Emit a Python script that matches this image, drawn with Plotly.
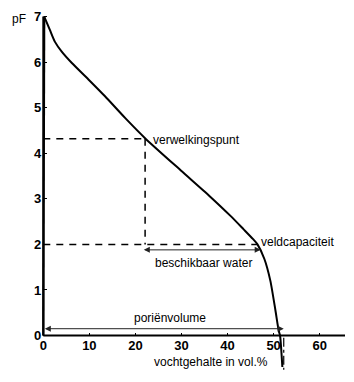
import plotly.graph_objects as go

# data
curve_vol = [0.2, 1.45, 2.5, 4.0, 6.2, 9.8, 13.4, 17.8, 22.2, 30.0, 36.0, 40.7, 43.5, 45.5, 46.5, 48.0, 49.3, 50.4, 51.1, 51.4, 51.9]
curve_pf = [7.0, 6.70, 6.45, 6.23, 5.98, 5.62, 5.25, 4.77, 4.32, 3.61, 3.07, 2.62, 2.33, 2.12, 2.0, 1.68, 1.2, 0.55, 0.11, 0.0, -0.69]
wilting_vol, wilting_pf = 22.1, 4.32
field_vol, field_pf = 46.5, 2.0
pore_vol = 52.2
x_ticks = [0, 10, 20, 30, 40, 50, 60]
y_ticks = [0, 1, 2, 3, 4, 5, 6, 7]

font = "Arial, Liberation Sans, sans-serif"
xr = [-0.5, 65.5]
yr = [-0.8, 7.1]

fig = go.Figure()
# vertical start of curve
fig.add_trace(go.Scatter(x=[0, curve_vol[0]], y=[0, curve_pf[0]], mode="lines",
                         line=dict(color="black", width=2.2), hoverinfo="skip"))
fig.add_trace(go.Scatter(x=curve_vol, y=curve_pf, mode="lines",
                         line=dict(color="black", width=2, shape="spline", smoothing=0.6), hoverinfo="skip"))
# dashed guides
dash = dict(color="black", width=1.5, dash="7px,6px")
fig.add_trace(go.Scatter(x=[0, wilting_vol], y=[wilting_pf, wilting_pf], mode="lines", line=dash, hoverinfo="skip"))
fig.add_trace(go.Scatter(x=[wilting_vol, wilting_vol], y=[wilting_pf, field_pf], mode="lines", line=dash, hoverinfo="skip"))
fig.add_trace(go.Scatter(x=[0, field_vol], y=[field_pf, field_pf], mode="lines", line=dash, hoverinfo="skip"))
# dash-dot at pore volume
fig.add_trace(go.Scatter(x=[pore_vol, pore_vol], y=[-0.05, -0.75], mode="lines",
                         line=dict(color="black", width=1.2, dash="dashdot"), hoverinfo="skip"))

shapes = [
    dict(type="line", xref="x", yref="y", x0=0, x1=65.5, y0=0, y1=0, line=dict(color="black", width=2)),
    dict(type="line", xref="x", yref="y", x0=0, x1=0, y0=0, y1=7, line=dict(color="black", width=2)),
]

ann = []
def arrow(x0, x1, y):
    ann.append(dict(x=x1, y=y, ax=x0, ay=y, xref="x", yref="y", axref="x", ayref="y",
                    showarrow=True, arrowhead=2, startarrowhead=2, arrowside="end+start",
                    arrowsize=1.2, arrowwidth=1, arrowcolor="#222", text=""))
arrow(0, pore_vol, 0.15)
arrow(21.5, 47.2, 1.88)

def label(txt, x, y, size=12):
    ann.append(dict(x=x, y=y, xref="x", yref="y", text=txt, showarrow=False, xanchor="left",
                    yanchor="middle", font=dict(family=font, size=size, color="black")))
label("verwelkingspunt", 23.3, 4.30)
label("veldcapaciteit", 46.9, 2.05)
label("beschikbaar water", 23.9, 1.59)
label("poriënvolume", 19.3, 0.39)
label("vochtgehalte in vol.%", 23.7, -0.57)
ann.append(dict(x=-0.043, y=0.981, xref="paper", yref="paper", text="pF", showarrow=False, xanchor="right",
                yanchor="middle", font=dict(family=font, size=12, color="black")))
fig.update_layout(annotations=ann, shapes=shapes)

fig.update_layout(
    width=354, height=382, margin=dict(l=41, r=9, t=10, b=10),
    plot_bgcolor="white", paper_bgcolor="white", showlegend=False,
    xaxis=dict(range=xr, tickvals=x_ticks, ticks="inside", ticklen=3, tickcolor="black",
               showgrid=False, zeroline=False, showline=False, anchor="free",
               position=(0 - yr[0]) / (yr[1] - yr[0]),
               tickfont=dict(family=font, size=13, color="black", weight="bold")),
    yaxis=dict(range=yr, tickvals=y_ticks, ticks="inside", ticklen=3, tickcolor="black",
               showgrid=False, zeroline=False, showline=False, anchor="free",
               position=(0 - xr[0]) / (xr[1] - xr[0]), ticklabelstandoff=2,
               tickfont=dict(family=font, size=13, color="black", weight="bold")),
)
fig.write_html("out.html")
